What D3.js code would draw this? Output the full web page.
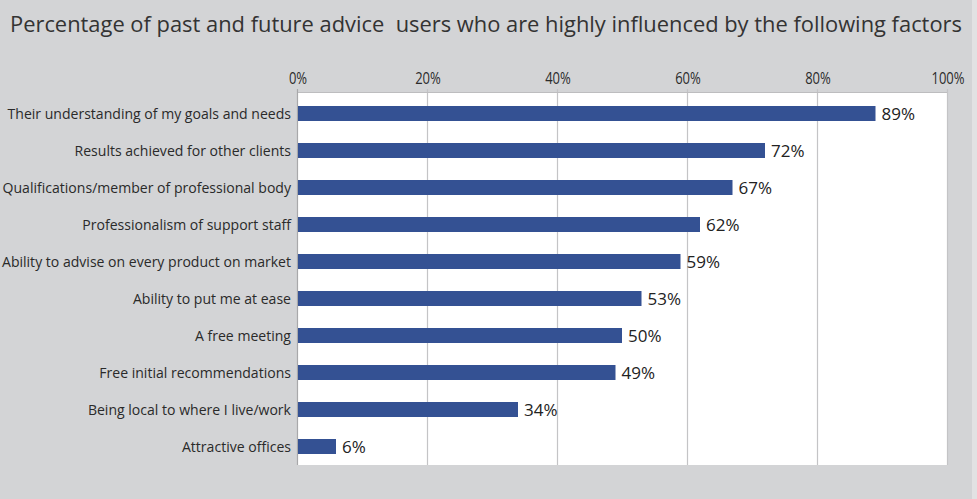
<!DOCTYPE html>
<html>
<head>
<meta charset="utf-8">
<script src="https://cdn.jsdelivr.net/npm/d3@7/dist/d3.min.js"></script>
<style>
  html, body { margin: 0; padding: 0; background: #d3d4d6; }
  svg { display: block; }
  text { font-family: "Open Sans", "Noto Sans", sans-serif; }
</style>
</head>
<body>
<svg id="chart" width="977" height="499"></svg>
<script>
// Survey factors and share of respondents highly influenced by each
const categories = [
  "Their understanding of my goals and needs",
  "Results achieved for other clients",
  "Qualifications/member of professional body",
  "Professionalism of support staff",
  "Ability to advise on every product on market",
  "Ability to put me at ease",
  "A free meeting",
  "Free initial recommendations",
  "Being local to where I live/work",
  "Attractive offices"
];
const values = [89, 72, 67, 62, 59, 53, 50, 49, 34, 6];
const tickValues = [0, 20, 40, 60, 80, 100];
const titleText = "Percentage of past and future advice  users who are highly influenced by the following factors";

const svg = d3.select("#chart");
const W = 977, H = 499;

svg.append("rect").attr("width", W).attr("height", H).attr("fill", "#d3d4d6");
svg.append("rect").attr("x", 972).attr("width", 5).attr("height", H).attr("fill", "#e2e2e3");

const plot = { left: 297, right: 947, top: 92, bottom: 465 };

const x = d3.scaleLinear().domain([0, 100]).range([plot.left, plot.right]);
const y = d3.scaleBand().domain(categories).range([95, plot.bottom]).paddingInner(0.595).paddingOuter(0.2975);

// plot background
svg.append("rect")
  .attr("x", plot.left).attr("y", plot.top)
  .attr("width", plot.right - plot.left).attr("height", plot.bottom - plot.top)
  .attr("fill", "#ffffff");

// vertical gridlines
svg.append("g").selectAll("line")
  .data(tickValues.slice(1))
  .join("line")
  .attr("x1", d => x(d) + 0.5).attr("x2", d => x(d) + 0.5)
  .attr("y1", plot.top - 3).attr("y2", plot.bottom)
  .attr("stroke", "#c4c4c6").attr("stroke-width", 1.2);

// top border
svg.append("line")
  .attr("x1", plot.left).attr("x2", plot.right)
  .attr("y1", plot.top + 0.5).attr("y2", plot.top + 0.5)
  .attr("stroke", "#bdbdbf");

// left axis line
svg.append("line")
  .attr("x1", plot.left + 0.5).attr("x2", plot.left + 0.5)
  .attr("y1", plot.top - 3).attr("y2", plot.bottom)
  .attr("stroke", "#a8a8aa").attr("stroke-width", 1.2);

// top axis tick labels
const topAxis = d3.axisTop(x).tickValues(tickValues).tickFormat(d => d + "%").tickSize(0).tickPadding(0);
const ga = svg.append("g").attr("transform", `translate(0.5,${84})`).call(topAxis);
ga.select(".domain").remove();
ga.selectAll("text")
  .attr("font-family", "'Open Sans', sans-serif")
  .attr("font-size", 15.5)
  .attr("fill", "#2b2b2b")
  .attr("dy", 0)
  .each(function() {
    const len = this.getComputedTextLength();
    d3.select(this).attr("textLength", len * 0.84).attr("lengthAdjust", "spacingAndGlyphs");
  });

// bars
svg.append("g").selectAll("rect")
  .data(values)
  .join("rect")
  .attr("x", x(0) + 1)
  .attr("y", (d, i) => y(categories[i]))
  .attr("width", d => x(d) - x(0) - 1)
  .attr("height", y.bandwidth())
  .attr("fill", "#345193");

// value labels
svg.append("g").selectAll("text")
  .data(values)
  .join("text")
  .attr("x", d => x(d) + 6)
  .attr("y", (d, i) => y(categories[i]) + y.bandwidth() / 2)
  .attr("dy", "0.36em")
  .attr("font-size", 17)
  .attr("fill", "#222")
  .text(d => d + "%");

// category labels, condensed uniformly so the longest spans the left margin
const catLabels = svg.append("g").selectAll("text")
  .data(categories)
  .join("text")
  .attr("x", 291)
  .attr("y", d => y(d) + y.bandwidth() / 2)
  .attr("dy", "0.36em")
  .attr("text-anchor", "end")
  .attr("font-size", 14.5)
  .attr("fill", "#2a2a2a")
  .text(d => d);
let maxLen = 0;
catLabels.each(function() { maxLen = Math.max(maxLen, this.getComputedTextLength()); });
const squeeze = 289 / maxLen;
catLabels.each(function() {
  const len = this.getComputedTextLength();
  d3.select(this).attr("textLength", len * squeeze).attr("lengthAdjust", "spacingAndGlyphs");
});

// title in a narrow face; shrink only if it would not fit the width
const title = svg.append("text")
  .attr("x", 10).attr("y", 32)
  .attr("font-family", "'Liberation Sans Narrow', 'Arial Narrow', 'Open Sans', sans-serif")
  .attr("font-size", 24)
  .attr("fill", "#333")
  .attr("xml:space", "preserve")
  .style("white-space", "pre")
  .text(titleText);
const tLen = title.node().getComputedTextLength();
if (tLen > 953) title.attr("font-size", 24 * 953 / tLen);
</script>
</body>
</html>
